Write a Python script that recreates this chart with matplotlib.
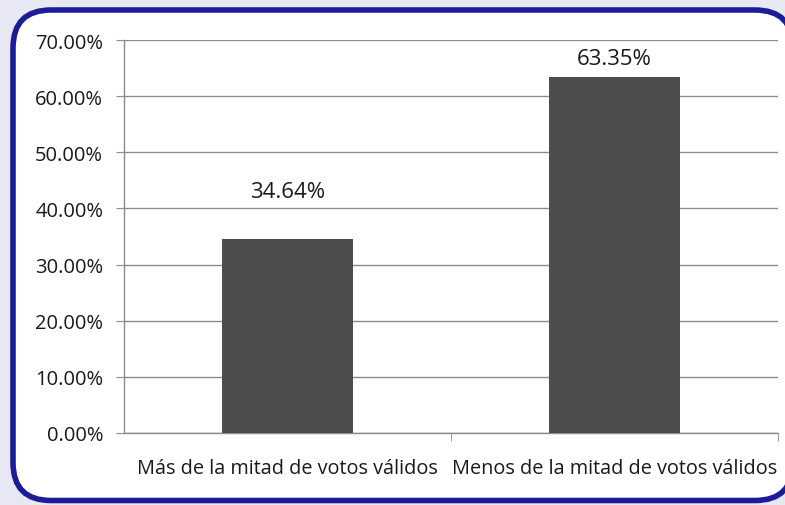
import matplotlib
matplotlib.use("Agg")
import matplotlib.pyplot as plt
from matplotlib.patches import FancyBboxPatch
from matplotlib.ticker import FuncFormatter

categories = ["Más de la mitad de votos válidos", "Menos de la mitad de votos válidos"]
values = [34.64, 63.35]
y_ticks = [0, 10, 20, 30, 40, 50, 60, 70]

plt.rcParams['font.family'] = ['Open Sans', 'DejaVu Sans']

fig = plt.figure(figsize=(7.85, 5.06), dpi=100)
fig.patch.set_facecolor('#e8e8f4')

# rounded frame in pixel coords, right side runs off the image
frame = FancyBboxPatch((13, 4.5), 780, 490.5, boxstyle="round,pad=0,rounding_size=38",
                       transform=None, facecolor='white', edgecolor='#1c1c96', linewidth=4.0, zorder=1)
fig.patches.append(frame)
# thin grey shadow just under the top edge
fig.add_artist(plt.Line2D([50, 760], [489.5, 489.5], transform=None, color='#8a8a8a', linewidth=1.2, zorder=1))

ax = fig.add_axes([124 / 785, 72 / 506, 654 / 785, 393 / 506])
ax.set_facecolor('none')
ax.set_zorder(2)

x = range(len(categories))
ax.bar(x, values, width=0.4, color='#4d4d4d', zorder=3)
# data labels were nudged by hand in the original
label_offsets = [33.5, 13.5]
for xi, v, off in zip(x, values, label_offsets):
    ax.annotate(f"{v:.2f}%", (xi, v), xytext=(0, off), textcoords='offset points',
                ha='center', va='center', fontsize=16, color='#1a1a1a')

ax.set_xlim(-0.5, 1.5)
ax.set_ylim(0, 70)
ax.set_yticks(y_ticks)
ax.yaxis.set_major_formatter(FuncFormatter(lambda v, p: f"{v:.2f}%"))
ax.grid(axis='y', color='#8c8c8c', linewidth=1.0, zorder=1)
ax.set_axisbelow(True)

ax.set_xticks(list(x))
ax.set_xticklabels(categories)
ax.set_xticks([0.5, 1.5], minor=True)
ax.tick_params(axis='x', which='major', length=0, pad=18, labelsize=14.3, labelcolor='#1a1a1a')
ax.tick_params(axis='x', which='minor', length=6, color='#8c8c8c', direction='out')
ax.tick_params(axis='y', length=6, color='#8c8c8c', labelsize=14.5, labelcolor='#1a1a1a', pad=9)

for s in ['top', 'right']:
    ax.spines[s].set_visible(False)
for s in ['left', 'bottom']:
    ax.spines[s].set_color('#8c8c8c')
    ax.spines[s].set_linewidth(1.0)
ax.spines['left'].set_bounds(0, 70)

fig.savefig('out.png', dpi=100, facecolor=fig.get_facecolor())
